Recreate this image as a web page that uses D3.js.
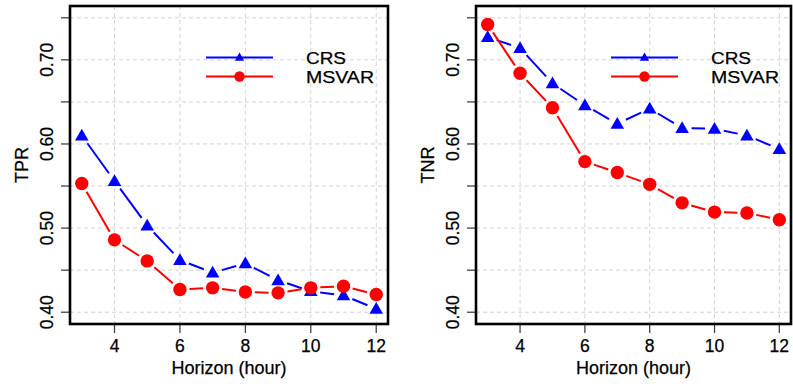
<!DOCTYPE html>
<html>
<head>
<meta charset="utf-8">
<title>TPR / TNR by horizon</title>
<style>
  body { margin: 0; background: #fff; }
  svg { display: block; font-family: "Liberation Sans", Arial, sans-serif; }
  .grid { stroke: #d4d4d4; stroke-width: 1; stroke-dasharray: 4,3; fill: none; }
  .tick { stroke: #444; stroke-width: 1.3; }
  .box { fill: none; stroke: #000; stroke-width: 2.6; }
  .lab { font-size: 17.5px; fill: #000; stroke: #000; stroke-width: 0.25; }
  .ttl { font-size: 18px; fill: #000; stroke: #000; stroke-width: 0.25; }
  .leg { font-size: 16.8px; fill: #000; stroke: #000; stroke-width: 0.25; }
</style>
<script src="https://cdn.jsdelivr.net/npm/d3@7"></script>
</head>
<body>
<svg width="793" height="384"></svg>
<script>
// data
var hours = [3, 4, 5, 6, 7, 8, 9, 10, 11, 12];
var tprCRS   = [0.610, 0.556, 0.503, 0.462, 0.447, 0.458, 0.438, 0.425, 0.420, 0.404];
var tprMSVAR = [0.553, 0.486, 0.461, 0.427, 0.429, 0.424, 0.423, 0.429, 0.431, 0.421];
var tnrCRS   = [0.727, 0.714, 0.672, 0.646, 0.624, 0.642, 0.619, 0.618, 0.610, 0.594];
var tnrMSVAR = [0.742, 0.684, 0.643, 0.579, 0.566, 0.552, 0.530, 0.519, 0.518, 0.510];
var seriesNames = ["CRS", "MSVAR"];
var xTicks = [4, 6, 8, 10, 12];
var yTicks = [0.40, 0.45, 0.50, 0.55, 0.60, 0.65, 0.70, 0.75];
var yLabels = [0.40, 0.50, 0.60, 0.70];

var svg = d3.select("svg");
var colors = ["#0000ff", "#ff0000"];

function drawPanel(left, right, yTitle, series, legX) {
  var top = 6, bottom = 324;
  var x = d3.scaleLinear().domain([2.64, 12.36]).range([left, right]);
  var y = d3.scaleLinear().domain([0.386, 0.764]).range([bottom, top]);
  var g = svg.append("g");

  // grid
  g.selectAll(".gx").data(xTicks).enter().append("line")
    .attr("class", "grid")
    .attr("x1", d => x(d)).attr("x2", d => x(d))
    .attr("y1", top).attr("y2", bottom);
  g.selectAll(".gy").data(yTicks).enter().append("line")
    .attr("class", "grid")
    .attr("x1", left).attr("x2", right)
    .attr("y1", d => y(d)).attr("y2", d => y(d));

  // ticks
  g.selectAll(".tx").data(xTicks).enter().append("line")
    .attr("class", "tick")
    .attr("x1", d => x(d)).attr("x2", d => x(d))
    .attr("y1", bottom).attr("y2", bottom + 9);
  g.selectAll(".ty").data(yTicks).enter().append("line")
    .attr("class", "tick")
    .attr("x1", left - 9).attr("x2", left)
    .attr("y1", d => y(d)).attr("y2", d => y(d));

  g.selectAll(".lx").data(xTicks).enter().append("text")
    .attr("class", "lab")
    .attr("x", d => x(d)).attr("y", 352)
    .attr("text-anchor", "middle")
    .text(d => d);
  g.selectAll(".ly").data(yLabels).enter().append("text")
    .attr("class", "lab")
    .attr("transform", d => "translate(" + (left - 17) + "," + y(d) + ") rotate(-90)")
    .attr("text-anchor", "middle")
    .text(d => d3.format(".2f")(d));

  g.append("text").attr("class", "ttl")
    .attr("x", (left + right) / 2).attr("y", 374)
    .attr("text-anchor", "middle")
    .text("Horizon (hour)");
  g.append("text").attr("class", "ttl")
    .attr("transform", "translate(" + (left - 42) + "," + ((top + bottom) / 2) + ") rotate(-90)")
    .attr("text-anchor", "middle")
    .text(yTitle);

  var tri = d3.symbol().type(d3.symbolTriangle);
  var gap = 9.5;

  series.forEach(function(vals, si) {
    var pts = hours.map((h, i) => [x(h), y(vals[i])]);
    // lines broken around the points (R type = "b")
    var segs = d3.pairs(pts).map(function(p) {
      var dx = p[1][0] - p[0][0], dy = p[1][1] - p[0][1];
      var len = Math.sqrt(dx * dx + dy * dy);
      if (len <= 2 * gap) return null;
      var ux = dx / len, uy = dy / len;
      return [[p[0][0] + ux * gap, p[0][1] + uy * gap], [p[1][0] - ux * gap, p[1][1] - uy * gap]];
    }).filter(d => d);
    g.selectAll(null).data(segs).enter().append("line")
      .attr("x1", d => d[0][0]).attr("y1", d => d[0][1])
      .attr("x2", d => d[1][0]).attr("y2", d => d[1][1])
      .attr("stroke", colors[si]).attr("stroke-width", 2);

    if (si === 0) {
      g.selectAll(null).data(pts).enter().append("path")
        .attr("d", tri.size(80))
        .attr("transform", d => "translate(" + d[0] + "," + (d[1] + 1) + ")")
        .attr("fill", colors[si]);
    } else {
      g.selectAll(null).data(pts).enter().append("circle")
        .attr("cx", d => d[0]).attr("cy", d => d[1]).attr("r", 6.7)
        .attr("fill", colors[si]);
    }

    // legend
    var ly = [57.5, 76.5][si];
    g.append("line")
      .attr("x1", legX).attr("x2", legX + 67)
      .attr("y1", ly).attr("y2", ly)
      .attr("stroke", colors[si]).attr("stroke-width", 2);
    if (si === 0) {
      g.append("path").attr("d", tri.size(38))
        .attr("transform", "translate(" + (legX + 33.5) + "," + (ly + 0.5) + ")")
        .attr("fill", colors[si]);
    } else {
      g.append("circle").attr("cx", legX + 33.5).attr("cy", ly).attr("r", 5.2)
        .attr("fill", colors[si]);
    }
    g.append("text").attr("class", "leg")
      .attr("x", legX + 100).attr("y", ly + 6.5)
      .attr("textLength", [40, 68][si])
      .attr("lengthAdjust", "spacingAndGlyphs")
      .text(seriesNames[si]);
  });

  g.append("rect").attr("class", "box")
    .attr("x", left).attr("y", top)
    .attr("width", right - left).attr("height", bottom - top);
}

drawPanel(70, 388, "TPR", [tprCRS, tprMSVAR], 206);
drawPanel(476, 791, "TNR", [tnrCRS, tnrMSVAR], 611);
</script>
</body>
</html>
